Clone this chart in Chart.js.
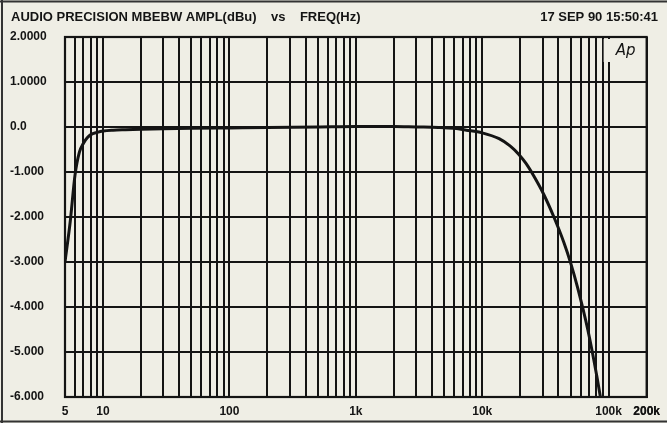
<!DOCTYPE html>
<html>
<head>
<meta charset="utf-8">
<script src="https://cdn.jsdelivr.net/npm/chart.js@4"></script>
<style>
  html, body { margin: 0; padding: 0; background: #efeee5; }
  #wrap { width: 667px; height: 423px; }
</style>
</head>
<body>
<div id="wrap"><canvas id="myChart" width="667" height="423"></canvas></div>
<script>
// Respuesta en frecuencia (Hz -> dBu)
const freqs = [5, 5.5, 6, 6.5, 7, 7.5, 8, 9, 10, 12, 15, 20, 30, 50, 100, 200, 500,
  1000, 2000, 3000, 4500, 6000, 7500, 10000, 13600, 16600, 19500, 22200, 25600,
  30700, 36900, 44200, 50200, 57000, 68400, 80500, 86600];
const levels = [-3.0, -2.1, -1.07, -0.56, -0.36, -0.24, -0.17, -0.12, -0.09, -0.07, -0.06, -0.05, -0.04, -0.03, -0.02, -0.01, 0.0,
  0.01, 0.01, 0.0, -0.01, -0.03, -0.07, -0.13, -0.26, -0.42, -0.61, -0.81, -1.09,
  -1.5, -2.0, -2.56, -3.03, -3.58, -4.5, -5.52, -6.04];

// Etiquetas de los ejes
const xLabels = { 5: '5', 10: '10', 100: '100', 1000: '1k', 10000: '10k', 100000: '100k', 200000: '200k' };
const yTicks = [2, 1, 0, -1, -2, -3, -4, -5, -6];
const yLabels = ['2.0000', '1.0000', '0.0', '-1.000', '-2.000', '-3.000', '-4.000', '-5.000', '-6.000'];

const titleLeft = 'AUDIO PRECISION MBEBW AMPL(dBu)    vs    FREQ(Hz)';
const titleRight = '17 SEP 90 15:50:41';

// Rejilla logaritmica: 1..9 por decada
const xGrid = [];
for (let d = 1; d <= 100000; d *= 10) {
  for (let m = 1; m <= 9; m++) {
    const v = m * d;
    if (v >= 5 && v <= 200000) xGrid.push(v);
  }
}
xGrid.push(200000);

const ink = '#141414';
const paper = '#efeee5';
const tickFont = { family: '"Liberation Sans", Arial, sans-serif', size: 12, weight: 'bold' };

const framePlugin = {
  id: 'frame',
  beforeDraw(chart) {
    const c = chart.ctx;
    c.save();
    c.fillStyle = paper;
    c.fillRect(0, 0, chart.width, chart.height);
    // marco exterior
    c.strokeStyle = '#333';
    c.lineWidth = 2;
    c.beginPath();
    c.moveTo(2, 0); c.lineTo(2, chart.height);
    c.moveTo(0, 1.5); c.lineTo(chart.width, 1.5);
    c.moveTo(0, chart.height - 1.5); c.lineTo(chart.width, chart.height - 1.5);
    c.stroke();
    // titulos
    c.fillStyle = ink;
    c.font = 'bold 13px "Liberation Sans", Arial, sans-serif';
    c.textBaseline = 'alphabetic';
    c.textAlign = 'left';
    c.fillText(titleLeft, 11, 21);
    c.textAlign = 'right';
    c.fillText(titleRight, 658, 21);
    c.restore();
  },
  beforeDatasetsDraw(chart) {
    const { left, top, right, bottom } = chart.chartArea;
    const c = chart.ctx;
    c.save();
    c.strokeStyle = ink;
    c.lineWidth = 2.2;
    c.strokeRect(left, top, right - left, bottom - top);
    // logo Ap
    c.fillStyle = paper;
    c.fillRect(right - 43, top + 2, 41, 23);
    c.fillStyle = ink;
    c.font = 'italic 15px "DejaVu Sans", sans-serif';
    c.textAlign = 'left';
    c.textBaseline = 'alphabetic';
    c.fillText('Ap', right - 31, top + 18);
    c.restore();
  }
};

const ctx = document.getElementById('myChart').getContext('2d');
const myChart = new Chart(ctx, {
  type: 'line',
  data: {
    datasets: [{
      data: freqs.map((f, i) => ({ x: f, y: levels[i] })),
      borderColor: ink,
      borderWidth: 3,
      pointRadius: 0,
      fill: false,
      cubicInterpolationMode: 'monotone'
    }]
  },
  options: {
    responsive: false,
    animation: false,
    devicePixelRatio: 1,
    layout: { padding: { left: 10, top: 37, right: 19, bottom: 0 } },
    plugins: { legend: { display: false }, tooltip: { enabled: false } },
    scales: {
      x: {
        type: 'logarithmic',
        min: 5,
        max: 200000,
        afterBuildTicks: s => { s.ticks = xGrid.map(v => ({ value: v })); },
        afterFit: s => { s.height = 26; },
        grid: { color: ink, lineWidth: 2, drawTicks: false },
        border: { color: ink, width: 2 },
        ticks: {
          autoSkip: false, maxRotation: 0, minRotation: 0, padding: 7,
          color: ink, font: tickFont,
          callback: v => xLabels[v] || ''
        }
      },
      y: {
        min: -6,
        max: 2,
        afterBuildTicks: s => { s.ticks = yTicks.map(v => ({ value: v })); },
        afterFit: s => { s.width = 55; },
        grid: { color: ink, lineWidth: 2, drawTicks: false },
        border: { color: ink, width: 2 },
        ticks: {
          crossAlign: 'far', padding: 4, color: ink, font: tickFont,
          callback: v => yLabels[yTicks.indexOf(v)]
        }
      }
    }
  },
  plugins: [framePlugin]
});
</script>
</body>
</html>
